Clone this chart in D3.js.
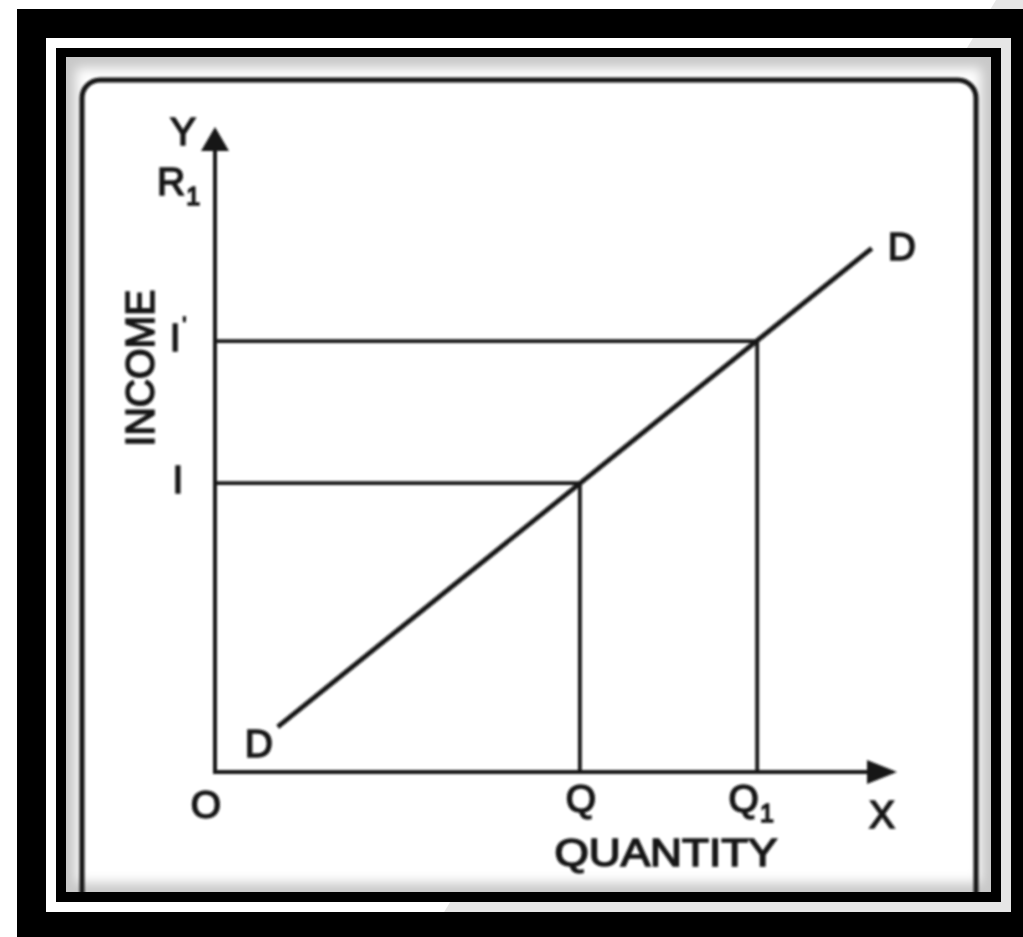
<!DOCTYPE html>
<html>
<head>
<meta charset="utf-8">
<script src="https://cdn.jsdelivr.net/npm/d3@7"></script>
<style>
  html, body { margin: 0; padding: 0; background: #fff; }
  svg { display: block; }
  .lbl { font-family: "Liberation Sans", Arial, sans-serif; fill: #151515; stroke: #151515; stroke-width: 1.6; }
</style>
</head>
<body>
<div id="chart"></div>
<script>
// income / quantity diagram - values in axis units (0..100 = arrow tip)
const quantityLabels = ["Q", "Q"];
const quantitySubs = ["", "1"];
const quantityValues = [53.5, 79.5];

const incomeLabels = ["I", "I"];
const incomeMarks = ["", "'"];
const incomeValues = [44.8, 66.8];

const demandQuantity = [9.2, 96.3];
const demandIncome = [7.0, 81.2];

const axisMax = 100;

const W = 1023, H = 937;

const svg = d3.select("#chart")
    .append("svg")
    .attr("width", W)
    .attr("height", H);

const defs = svg.append("defs");
defs.append("filter").attr("id", "scan")
    .attr("x", "-5%").attr("y", "-5%").attr("width", "110%").attr("height", "110%")
    .append("feGaussianBlur").attr("stdDeviation", 0.8);
defs.append("filter").attr("id", "soft")
    .append("feGaussianBlur").attr("stdDeviation", 6);
defs.append("clipPath").attr("id", "photo")
    .append("rect").attr("x", 66).attr("y", 57).attr("width", 925).attr("height", 835);

// background with the light diagonal sheet on the right
svg.append("rect").attr("width", W).attr("height", H).attr("fill", "#fff");
svg.append("path")
    .attr("d", "M996,0 L1023,0 L1023,937 L429,937 Z")
    .attr("fill", "#e6e6e6");

// thick black outer frame (with the strip showing through)
svg.append("path")
    .attr("fill-rule", "evenodd")
    .attr("fill", "#000")
    .attr("d", "M17,9 H1030 V945 H17 Z M46,38 V912 H1011 V38 Z");

// thin black frame + scanned picture
svg.append("rect").attr("x", 56).attr("y", 48).attr("width", 945).attr("height", 854).attr("fill", "#000");
svg.append("rect").attr("x", 66).attr("y", 57).attr("width", 925).attr("height", 835).attr("fill", "#c8c8c8");
svg.append("g").attr("clip-path", "url(#photo)")
    .append("rect").attr("x", 76).attr("y", 68).attr("width", 905).attr("height", 815)
    .attr("fill", "#fff").attr("filter", "url(#soft)");

const g = svg.append("g").attr("clip-path", "url(#photo)").attr("filter", "url(#scan)");

// rounded box from the book page, runs off the bottom
g.append("rect")
    .attr("x", 82).attr("y", 80).attr("width", 894).attr("height", 880)
    .attr("rx", 18).attr("ry", 18)
    .attr("fill", "none").attr("stroke", "#141414").attr("stroke-width", 5);

const x = d3.scaleLinear().domain([0, axisMax]).range([215, 897]);
const y = d3.scaleLinear().domain([0, axisMax]).range([772, 127]);

const ink = "#151515";

// axes
g.append("line")
    .attr("x1", x(0)).attr("y1", y(0)).attr("x2", x(0)).attr("y2", y(axisMax) + 10)
    .attr("stroke", ink).attr("stroke-width", 4);
g.append("line")
    .attr("x1", x(0) - 2).attr("y1", y(0)).attr("x2", x(axisMax) - 10).attr("y2", y(0))
    .attr("stroke", ink).attr("stroke-width", 4);

// arrow heads
g.append("path")
    .attr("d", `M${x(0)},${y(axisMax)} L${x(0) + 14},${y(axisMax) + 24} L${x(0) - 14},${y(axisMax) + 24} Z`)
    .attr("fill", ink);
g.append("path")
    .attr("d", `M${x(axisMax)},${y(0)} L${x(axisMax) - 30},${y(0) - 12} L${x(axisMax) - 30},${y(0) + 12} Z`)
    .attr("fill", ink);

// guide lines for the two income levels
const pairs = d3.zip(quantityValues, incomeValues);
g.selectAll(".hguide")
    .data(pairs)
    .enter().append("line")
    .attr("x1", x(0)).attr("y1", d => y(d[1]))
    .attr("x2", d => x(d[0])).attr("y2", d => y(d[1]))
    .attr("stroke", ink).attr("stroke-width", 3.8);
g.selectAll(".vguide")
    .data(pairs)
    .enter().append("line")
    .attr("x1", d => x(d[0])).attr("y1", d => y(d[1]))
    .attr("x2", d => x(d[0])).attr("y2", y(0))
    .attr("stroke", ink).attr("stroke-width", 3.8);

// demand line DD
g.append("path")
    .datum(d3.zip(demandQuantity, demandIncome))
    .attr("d", d3.line().x(d => x(d[0])).y(d => y(d[1])))
    .attr("fill", "none").attr("stroke", ink).attr("stroke-width", 4.8);

// labels
function label(tx, ty, str, anchor, size) {
    return g.append("text").attr("class", "lbl")
        .attr("x", tx).attr("y", ty)
        .attr("text-anchor", anchor || "middle")
        .style("font-size", (size || 39) + "px")
        .text(str);
}

label(x(0) - 32, y(axisMax) + 18, "Y");
const r1 = label(x(0) - 58, 195, "R", "start");
r1.append("tspan").attr("dy", 10).attr("dx", 1).style("font-size", "25px").text("1");

label(x(0) - 9, y(0) + 46, "O");
label(x(axisMax) - 15, y(0) + 56, "X");

// quantity ticks
quantityLabels.forEach((s, i) => {
    const t = label(x(quantityValues[i]) + (quantitySubs[i] ? -6 : 1), y(0) + 40, s);
    if (quantitySubs[i]) {
        t.append("tspan").attr("dy", 10).attr("dx", 1).style("font-size", "25px").text(quantitySubs[i]);
    }
});

// income ticks
incomeLabels.forEach((s, i) => {
    const t = label(x(0) - 37, y(incomeValues[i]) + 10, s);
    if (incomeMarks[i]) {
        t.append("tspan").attr("dy", -20).attr("dx", 2).style("font-size", "20px").text(incomeMarks[i]);
    }
});

// D labels at both ends of the curve
label(x(demandQuantity[0]) - 33, y(demandIncome[0]) + 30, "D", "start");
label(x(demandQuantity[1]) + 16, y(demandIncome[1]) + 12, "D", "start");

// axis titles
label(666, 866, "QUANTITY").attr("textLength", 223).attr("lengthAdjust", "spacingAndGlyphs");
g.append("text").attr("class", "lbl")
    .attr("transform", "translate(154,368) rotate(-90)")
    .attr("text-anchor", "middle")
    .style("font-size", "41px")
    .attr("textLength", 157).attr("lengthAdjust", "spacingAndGlyphs")
    .text("INCOME");
</script>
</body>
</html>
